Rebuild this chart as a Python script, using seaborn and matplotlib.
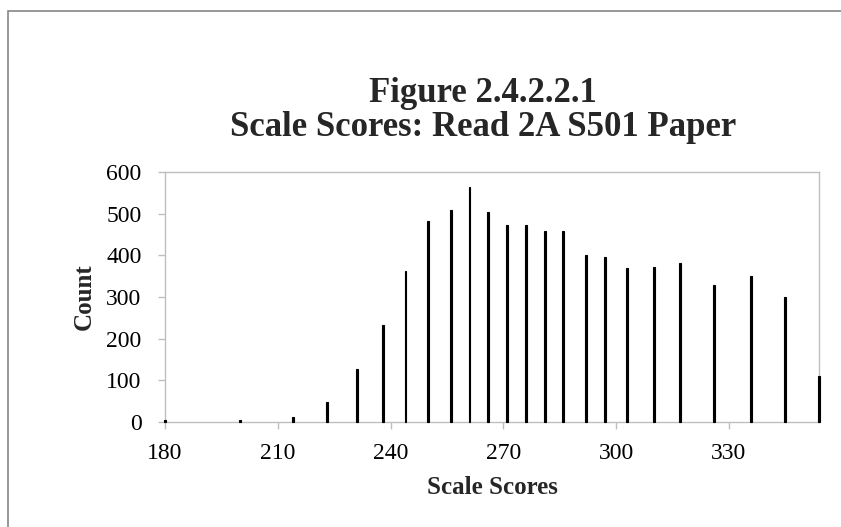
"""
Scale score distribution chart (Figure 2.4.2.2.1), drawn as thin bars.
"""

import matplotlib
matplotlib.use("Agg")
import matplotlib.pyplot as plt
import matplotlib.patches as mpatches
import seaborn as sns

# scale scores (x) and counts
scores = [180, 200, 214, 223, 231, 238, 244, 250, 256, 261, 266, 271,
          276, 281, 286, 292, 297, 303, 310, 317, 326, 336, 345, 354]
counts = [5, 6, 11, 47, 128, 233, 363, 482, 508, 563, 504, 472,
          472, 459, 459, 400, 395, 369, 373, 382, 328, 351, 301, 111]

x_ticks = [180, 210, 240, 270, 300, 330]
y_ticks = [0, 100, 200, 300, 400, 500, 600]

title_lines = ["Figure 2.4.2.2.1", "Scale Scores: Read 2A S501 Paper"]

sns.set_theme(style="white")
plt.rcParams["font.family"] = ["Liberation Serif", "DejaVu Serif"]

fig = plt.figure(figsize=(8.41, 5.27), dpi=100)
ax = fig.add_axes([165 / 841, 105 / 527, 654 / 841, 250 / 527])

ax.bar(scores, counts, width=0.5, color="black", edgecolor="black",
       linewidth=0.8, clip_on=False, zorder=3)

ax.set_xlim(180, 354)
ax.set_ylim(0, 600)
ax.set_xticks(x_ticks)
ax.set_yticks(y_ticks)
ax.tick_params(axis="both", labelsize=17, colors="#BFBFBF", labelcolor="black",
               direction="out", length=5, width=1.0)
ax.tick_params(axis="x", bottom=True, pad=10)
ax.tick_params(axis="y", left=True, pad=12)
for sp in ax.spines.values():
    sp.set_color("#BFBFBF")
    sp.set_linewidth(1.0)

ax.set_xlabel("Scale Scores", fontsize=18, fontweight="bold", va="center")
ax.set_ylabel("Count", fontsize=18, fontweight="bold", va="center")
ax.xaxis.set_label_coords(0.5, (422 - 488) / 250)
ax.yaxis.set_label_coords((84 - 165) / 654, 0.5)

fig.text(483 / 841, 1 - 93 / 527, title_lines[0], ha="center", va="center",
         fontsize=25, fontweight="bold")
fig.text(483 / 841, 1 - 127 / 527, title_lines[1], ha="center", va="center",
         fontsize=25, fontweight="bold")

# chart area border (cropped on the right and bottom)
border = mpatches.Rectangle((8 / 841, -0.1), 2.0, (527 - 11) / 527 + 0.1,
                            transform=fig.transFigure, fill=False,
                            ec="#868686", lw=1.2)
fig.patches.append(border)

fig.savefig("out.png", dpi=100)
